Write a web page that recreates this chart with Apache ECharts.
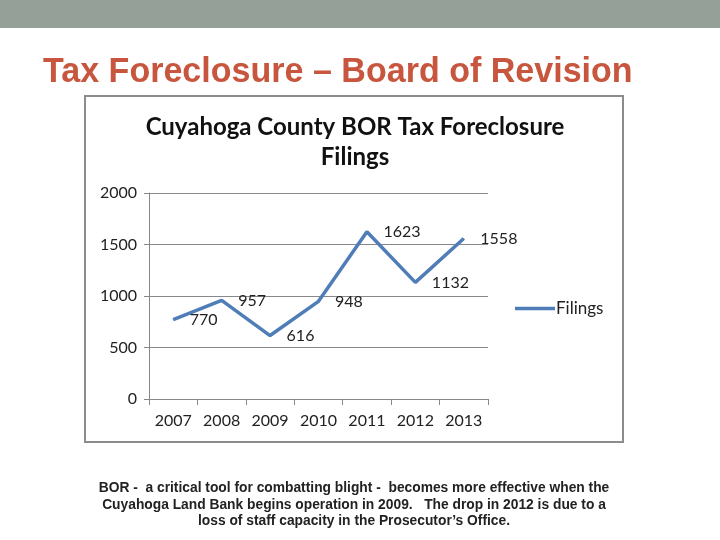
<!DOCTYPE html>
<html><head><meta charset="utf-8">
<script src="https://cdn.jsdelivr.net/npm/echarts@6/dist/echarts.min.js"></script>
<style>html,body{margin:0;padding:0;background:#fff}#c{width:720px;height:540px}</style>
</head><body><div id="c"></div>
<script>
var categories = ['2007','2008','2009','2010','2011','2012','2013'];
var filings = [770, 957, 616, 948, 1623, 1132, 1558];
var yTicks = [0, 500, 1000, 1500, 2000];
var seriesName = 'Filings';
var slideTitle = 'Tax Foreclosure \u2013 Board of Revision';
var chartTitle = 'Cuyahoga County BOR Tax Foreclosure\nFilings';
var caption = ['BOR -  a critical tool for combatting blight -  becomes more effective when the',
  'Cuyahoga Land Bank begins operation in 2009.   The drop in 2012 is due to a',
  'loss of staff capacity in the Prosecutor\u2019s Office.'];

var chart = echarts.init(document.getElementById('c'), null, {renderer:'canvas'});
var font = 'Lato, "Open Sans", sans-serif';
chart.setOption({
  animation: false,
  backgroundColor: '#fff',
  graphic: [
    {type:'rect', shape:{x:0,y:0,width:720,height:28}, style:{fill:'#95a198'}, z:-10},
    {type:'rect', shape:{x:85,y:96,width:538,height:346}, style:{fill:'#fff', stroke:'#8c8c8c', lineWidth:2}, z:-5},
    {type:'text', x:43, y:90, scaleX:0.959, originX:0, style:{text:slideTitle, fill:'#c8553d', verticalAlign:'bottom', font:'bold 35.5px "Liberation Sans", Arial, sans-serif'}},
    {type:'text', x:354, y:480, style:{text:caption.join('\n'), fill:'#222', align:'center', lineHeight:16.5, font:'bold 13.8px "Liberation Sans", Arial, sans-serif'}}
  ],
  title: {
    text: chartTitle, left: 350, textAlign: 'center', top: 107,
    textStyle: {fontFamily: font, fontWeight: 'bold', fontSize: 24, color: '#111', lineHeight: 30}
  },
  legend: {
    data: [seriesName], left: 515, top: 300, padding: 0, icon: 'rect', itemWidth: 40, itemHeight: 3.5, itemGap: 0,
    textStyle: {fontFamily: font, fontSize: 17, color: '#222', padding:[0,0,0,-4]}
  },
  grid: {left:149, right:232, top:193, bottom:141, containLabel:false},
  xAxis: {
    type:'category', data: categories, boundaryGap: true,
    axisLine:{show:true, lineStyle:{color:'#888', width:1}},
    axisTick:{show:true, length:6, lineStyle:{color:'#888'}},
    axisLabel:{fontFamily:font, fontSize:16, color:'#222', margin:14}
  },
  yAxis: {
    type:'value', min: yTicks[0], max: yTicks[yTicks.length-1], interval: 500,
    axisLine:{show:true, lineStyle:{color:'#888', width:1}},
    axisTick:{show:true, length:5, lineStyle:{color:'#888'}},
    splitLine:{show:true, lineStyle:{color:'#888', width:1}},
    axisLabel:{fontFamily:font, fontSize:16, color:'#222', margin:12, formatter: function(v){ return String(v); }}
  },
  series: [{
    name: seriesName, type:'line', data: filings, symbol:'circle', symbolSize:1, showSymbol:true,
    lineStyle:{color:'#4f7db8', width:3.5}, itemStyle:{color:'#4f7db8'},
    label:{show:true, position:'right', distance:16, fontFamily:font, fontSize:16, color:'#222'}
  }]
});
</script></body></html>
